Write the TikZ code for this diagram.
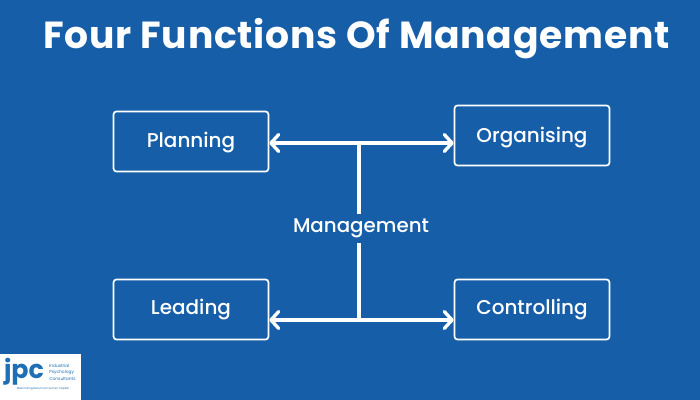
\documentclass[tikz,border=0pt]{standalone}
\usepackage{fontspec}
\setmainfont{Poppins}
\newfontfamily\medfont{Poppins Medium}
\usetikzlibrary{positioning, arrows.meta}
\definecolor{bgblue}{HTML}{175EA8}
\definecolor{logoblue}{HTML}{1F6FB5}
\tikzset{
	x=0.025cm, y=-0.025cm,
	every node/.style={text=white},
	funcbox/.style={draw=white, line width=1.2pt, rounded corners=2pt, minimum width=3.87cm, minimum height=1.5cm, inner sep=0pt, text height=10pt, text depth=3pt, font=\medfont\fontsize{14.2}{16}\selectfont},
	link/.style={draw=white, line width=2.5pt},
	linkarrow/.style={link, -{Straight Barb[length=5.5pt, width=12pt, line width=2.4pt, round]}}
}
\begin{document}
\begin{tikzpicture}
	\useasboundingbox[fill=bgblue] (0,0) rectangle (700,400);
	\node[font=\fontsize{26.8}{30}\selectfont\bfseries\addfontfeature{LetterSpace=2}] (title) at (356.5,39) {Four Functions Of Management};

	\node[funcbox, text height=11.5pt] (planning) at (191,141.5) {Planning};
	\node[funcbox, text height=12.5pt] (organising) at (532,135.5) {Organising};
	\node[funcbox] (leading) at (191,309.5) {Leading};
	\node[funcbox] (controlling) at (532,309.5) {Controlling};
	\node[font=\medfont\fontsize{14.1}{16}\selectfont, inner sep=0pt, minimum height=0.725cm] (management) at (361,228) {Management};

	\coordinate (topjoin) at (359,143);
	\coordinate (bottomjoin) at (359,320);
	\coordinate (vtop) at (359,214);
	\coordinate (vbottom) at (359,243);

	\draw[link] (vtop) -- (topjoin);
	\draw[link] (vbottom) -- (bottomjoin);
	\draw[linkarrow] (topjoin) -- (topjoin -| planning.east);
	\draw[linkarrow] (topjoin) -- (topjoin -| organising.west);
	\draw[linkarrow] (bottomjoin) -- (bottomjoin -| leading.east);
	\draw[linkarrow] (bottomjoin) -- (bottomjoin -| controlling.west);

	% logo
	\fill[white] (0,354) rectangle (81,400);
	\node[text=logoblue, font=\fontsize{18}{18}\selectfont\bfseries, inner sep=0pt] (jpc) at (24,372) {jpc};
	\node[text=logoblue, font=\fontsize{3.1}{4.7}\selectfont, align=left, inner sep=0pt, anchor=west] (ipcname) at (49,372) {Industrial\\Psychology\\Consultants};
	\node[text=logoblue, font=\fontsize{2}{2.4}\selectfont, inner sep=0pt] (ipctag) at (43,389) {Maximising Return on Human Capital};
\end{tikzpicture}
\end{document}
